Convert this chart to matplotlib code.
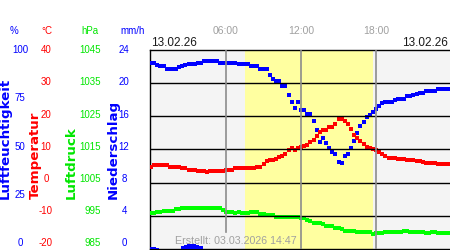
import numpy as np
import matplotlib
matplotlib.use("Agg")
import matplotlib.pyplot as plt

plt.rcParams['font.family'] = ['Liberation Sans', 'DejaVu Sans']

# 15-minute samples over the day 13.02.26
hours = np.arange(96) * 0.25

temperature = [4.8, 5.4, 5.4, 5.4, 5.4, 5.4, 4.8, 4.8, 4.8, 4.8, 4.5, 4.5,
               3.9, 3.9, 3.9, 3.6, 3.6, 3.6, 3.2, 3.6, 3.6, 3.6, 3.6, 3.6,
               3.8, 3.9, 3.9, 4.3, 4.3, 4.3, 4.3, 4.3, 4.5, 4.5, 4.8, 4.8,
               5.5, 6.4, 6.7, 6.9, 7.2, 7.7, 7.9, 8.7, 9.7, 10.4, 9.7, 10.6,
               10.7, 11.2, 11.4, 12.2, 13.0, 14.0, 15.2, 15.8, 16.0, 16.8, 16.8, 17.8,
               19.3, 19.1, 18.5, 17.6, 16.3, 14.5, 13.5, 12.5, 11.7, 10.9, 10.4, 10.0,
               9.9, 9.1, 8.7, 7.9, 7.5, 7.5, 7.5, 7.2, 7.2, 7.2, 6.9, 6.9,
               6.7, 6.4, 6.4, 6.2, 6.0, 6.0, 6.0, 6.0, 5.7, 5.7, 5.7, 5.7]

humidity = [93.8, 93.4, 92.8, 92.2, 91.9, 90.8, 90.8, 90.8, 90.8, 91.7, 91.9, 92.7,
            92.9, 92.9, 92.9, 93.8, 93.8, 94.8, 94.8, 94.8, 94.8, 94.8, 93.8, 93.8,
            93.8, 93.8, 93.8, 93.8, 92.9, 92.9, 92.9, 92.9, 91.9, 91.9, 91.9, 90.8,
            90.8, 90.8, 87.4, 85.7, 84.5, 84.5, 81.8, 81.8, 77.3, 73.9, 70.7, 73.9,
            69.7, 69.7, 67.7, 67.7, 64.6, 59.6, 53.7, 55.6, 53.5, 50.7, 48.6, 47.5,
            43.6, 43.4, 46.5, 47.5, 51.0, 54.5, 58.2, 61.6, 64.1, 66.3, 67.2, 68.7,
            70.5, 71.9, 73.5, 73.9, 73.9, 73.9, 74.7, 75.6, 75.6, 75.6, 76.8, 76.8,
            77.3, 77.8, 78.3, 78.3, 79.4, 79.4, 79.4, 79.4, 80.7, 80.7, 80.7, 80.7]

pressure = [995.7, 995.7, 996.2, 996.2, 996.5, 996.5, 996.5, 996.5, 996.9, 996.9, 997.3, 997.3,
            997.3, 997.3, 997.3, 997.3, 997.3, 997.3, 997.3, 997.3, 997.3, 997.3, 997.3, 996.7,
            996.2, 996.2, 996.2, 995.8, 996.2, 995.8, 995.8, 995.8, 996.0, 996.0, 996.0, 995.5,
            995.5, 995.1, 995.1, 995.1, 994.5, 994.7, 994.7, 994.7, 994.7, 994.7, 994.7, 994.7,
            994.4, 994.2, 993.8, 993.3, 992.9, 992.7, 992.7, 992.4, 992.0, 992.0, 991.8, 991.3,
            991.3, 991.1, 990.5, 990.5, 990.5, 990.5, 990.2, 990.2, 990.2, 990.2, 989.9, 989.5,
            989.8, 989.8, 989.8, 990.2, 990.2, 990.2, 990.2, 990.2, 990.2, 990.5, 990.5, 990.2,
            990.2, 990.2, 990.2, 990.2, 989.8, 989.8, 990.2, 990.2, 989.8, 989.8, 989.8, 989.8]

precip = [0.2, 0.2, 0.1, 0, 0, 0, 0, 0, 0, 0, 0.3, 0.5,
          0.6, 0.6, 0.6, 0.5, 0.3] + [0.0] * 79

sunrise, sunset = 7.52, 17.76

hum_ticks = ['100', '75', '50', '25', '0']
temp_ticks = ['40', '30', '20', '10', '0', '-10', '-20']
pres_ticks = ['1045', '1035', '1025', '1015', '1005', '995', '985']
rain_ticks = ['24', '20', '16', '12', '8', '4', '0']
time_ticks = [(6, '06:00'), (12, '12:00'), (18, '18:00')]

BLUE = '#0000ff'
RED = '#ff0000'
GREEN = '#00ff00'
GREEN_TXT = '#00e600'
GREY_TXT = '#a0a0a0'

W, H = 450, 250


def fx(px):
    return px / W


def fy(py):
    return 1 - py / H


fig = plt.figure(figsize=(4.5, 2.5), dpi=100)
fig.patch.set_facecolor('white')

top, bottom = 50.3, 248.7
ax = fig.add_axes([fx(150), fy(bottom), fx(451) - fx(150), fy(top) - fy(bottom)])
ax.set_xlim(-0.08, 24.0)
ax.set_ylim(-20, 40)
ax.set_facecolor('#f4f4f4')
ax.axvspan(sunrise, sunset, color='#ffffa0', lw=0, zorder=0)

ax_r = ax.twinx()
ax_r.set_ylim(0, 24)
ax_p = ax.twinx()
ax_p.set_ylim(985, 1045)
ax_h = ax.twinx()
ax_h.set_ylim(0, 100)
ax_t = ax.twinx()
ax_t.set_ylim(-20, 40)
ax_g = ax.twinx()
ax_g.set_ylim(-20, 40)

for a in (ax, ax_r, ax_p, ax_h, ax_t, ax_g):
    a.set_xticks([])
    a.set_yticks([])
    for s in a.spines.values():
        s.set_visible(False)
    if a is not ax:
        a.patch.set_visible(False)

for side in ('left', 'top', 'bottom'):
    ax.spines[side].set_visible(True)
    ax.spines[side].set_color('black')
    ax.spines[side].set_linewidth(1.0)

ax_r.bar(hours, precip, width=0.25, color=BLUE, lw=0)
ms = 2.9
ax_p.plot(hours, pressure, 's', ms=ms, mew=0, color=GREEN)
ax_h.plot(hours, humidity, 's', ms=ms, mew=0, color=BLUE)
ax_t.plot(hours, temperature, 's', ms=ms, mew=0, color=RED)

# grid on top of the data
for v in (-10, 0, 10, 20, 30):
    ax_g.axhline(v, color='black', lw=1.0)
# the 06:00 line stops above the footer text
ax_g.axvline(6, ymin=0.086, color='#8c8c8c', lw=1.2)
ax_g.axvline(12, color='#8c8c8c', lw=1.2)
ax_g.axvline(18, color='#8c8c8c', lw=1.2)

# left side scales
fs = 7
unit_y = 30.5
fig.text(fx(13.5), fy(unit_y), '%', color=BLUE, fontsize=fs, ha='center', va='center')
fig.text(fx(46.5), fy(unit_y), '°C', color=RED, fontsize=fs, ha='center', va='center')
fig.text(fx(89.5), fy(unit_y), 'hPa', color=GREEN_TXT, fontsize=fs, ha='center', va='center')
fig.text(fx(132.5), fy(unit_y), 'mm/h', color=BLUE, fontsize=fs, ha='center', va='center')

for lab, y in zip(hum_ticks, np.linspace(50, 243.5, len(hum_ticks))):
    fig.text(fx(20), fy(y), lab, color=BLUE, fontsize=fs, ha='center', va='center')
for lab, y in zip(temp_ticks, np.linspace(50, 243.5, len(temp_ticks))):
    fig.text(fx(46), fy(y), lab, color=RED, fontsize=fs, ha='center', va='center')
for lab, y in zip(pres_ticks, np.linspace(50, 243.5, len(pres_ticks))):
    fig.text(fx(100.5), fy(y), lab, color=GREEN_TXT, fontsize=fs, ha='right', va='center')
for lab, y in zip(rain_ticks, np.linspace(50, 243.5, len(rain_ticks))):
    fig.text(fx(124), fy(y), lab, color=BLUE, fontsize=fs, ha='center', va='center')

lab_kw = dict(rotation=90, ha='center', va='bottom', fontsize=9.6,
              fontweight='bold', family='DejaVu Sans')
fig.text(fx(5.5), fy(199), 'Luftfeuchtigkeit', color=BLUE, **lab_kw)
fig.text(fx(35.5), fy(199), 'Temperatur', color=RED, **lab_kw)
fig.text(fx(71.5), fy(199), 'Luftdruck', color=GREEN_TXT, **lab_kw)
fig.text(fx(113.5), fy(199), 'Niederschlag', color=BLUE, **lab_kw)

# time labels and dates above the plot
for h, lab in time_ticks:
    fig.text(fx(151 + 12.5 * h), fy(31), lab, color=GREY_TXT, fontsize=7.5,
             ha='center', va='center')
fig.text(fx(151), fy(43), '13.02.26', color='#1a1a1a', fontsize=8.5, ha='left', va='center')
fig.text(fx(448), fy(43), '13.02.26', color='#1a1a1a', fontsize=8.5, ha='right', va='center')

fig.text(fx(175), fy(240.5), 'Erstellt: 03.03.2026 14:47', color=GREY_TXT,
         fontsize=7.7, ha='left', va='center')

fig.savefig('out.png', dpi=100)
